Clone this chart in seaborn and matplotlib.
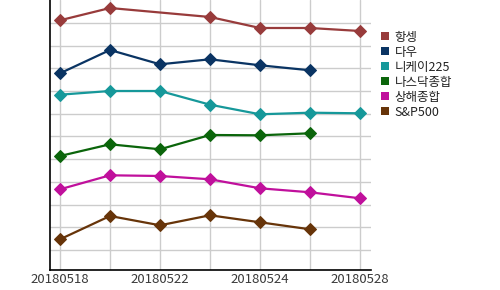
import numpy as np
import pandas as pd
import matplotlib
matplotlib.use("Agg")
import matplotlib.pyplot as plt
from matplotlib.patches import Rectangle
import seaborn as sns

dates = ["20180518", "20180521", "20180522", "20180523", "20180524", "20180525", "20180528"]
tick_labels = ["20180518", "", "20180522", "", "20180524", "", "20180528"]
series_names = ["항셍", "다우", "니케이225", "나스닥종합", "상해종합", "S&P500"]
hangseng = [249.7, 262.0, np.nan, 253.0, 242.0, 242.0, 239.0]
dow = [196.7, 220.0, 205.7, 210.7, 204.7, 199.7, np.nan]
nikkei = [175.3, 179.0, 179.0, 165.3, 155.7, 157.3, 156.7]
nasdaq = [114.0, 125.7, 120.7, 135.0, 134.7, 136.7, np.nan]
shanghai = [80.7, 94.7, 94.0, 90.7, 81.7, 77.7, 71.7]
sp500 = [30.7, 54.0, 44.7, 54.7, 47.7, 40.7, np.nan]
colors = ["#983b3b", "#0a3463", "#16989a", "#0b650b", "#c0109c", "#673409"]

values = [hangseng, dow, nikkei, nasdaq, shanghai, sp500]

sns.set_theme(style="white")
plt.rcParams["font.family"] = ["Noto Sans CJK KR", "DejaVu Sans"]

W, H = 500, 290
fig = plt.figure(figsize=(W / 100, H / 100), dpi=100)
ax = fig.add_axes([0.1, 0.069, 0.642, 0.931])

for name, vals, c in zip(series_names, values, colors):
    df = pd.DataFrame({"x": range(len(dates)), "y": vals}).dropna()
    sns.lineplot(data=df, x="x", y="y", ax=ax, color=c, linewidth=1.6,
                 marker="D", markersize=6, markeredgecolor=c, legend=False)

ax.set_xlim(-0.2, 6.22)
ax.set_ylim(0, 270)
ax.set_xticks(range(len(dates)))
ax.set_xticklabels(tick_labels, fontsize=9.5, color="#3a3a3a")
ax.set_yticks(np.arange(20, 265, 22.7))
ax.set_yticklabels([])
ax.tick_params(axis="both", length=0, pad=2)
ax.grid(True, color="#cccccc", linewidth=1)
ax.set_axisbelow(True)
ax.set_xlabel("")
ax.set_ylabel("")
for s in ["top", "right"]:
    ax.spines[s].set_visible(False)
for s in ["left", "bottom"]:
    ax.spines[s].set_color("black")
    ax.spines[s].set_linewidth(1.2)

# legend (manual rows)
row0, step = 36.0, 15.0
for i, (name, c) in enumerate(zip(series_names, colors)):
    yc = row0 + step * i
    fig.patches.append(Rectangle((381 / W, 1 - (yc + 3.8) / H), 7.8 / W, 7.5 / H,
                                 transform=fig.transFigure, facecolor=c,
                                 edgecolor=c, linewidth=0))
    fig.text(394.5 / W, 1 - (yc + 4.6) / H, name, fontsize=9, color="#222222",
             ha="left", va="baseline")

fig.savefig("out.png", dpi=100)
